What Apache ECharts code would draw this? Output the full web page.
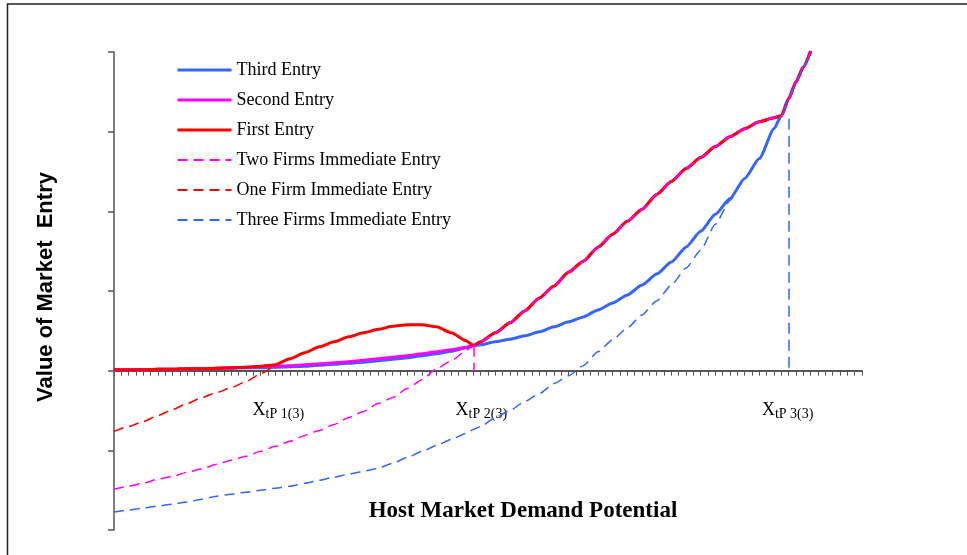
<!DOCTYPE html>
<html><head><meta charset="utf-8">
<script src="https://cdn.jsdelivr.net/npm/echarts@6/dist/echarts.min.js"></script>
<style>html,body{margin:0;padding:0;background:#fff}#c{width:967px;height:555px}</style>
</head><body><div id="c"></div>
<script>
// Host market demand potential (x) sample points
const xValues = [0,2,4,6,8,10,12,14,16,18,20,22,24,26,28,30,32,34,36,38,40,42,44,46,48,49,50,52,54,56,58,60,62,64,66,68,70,72,74,76,78,80,82,84,86,88,90,91,92,93,94,95];

const thirdEntry = [1,1,1,1.5,1.5,2,2,2.5,2.5,3,3,3.5,4,4.5,5.5,6.5,7.5,8.5,10,11.5,13,15,17,19.5,23,25,26,29,31.5,35,39,44,49,54,61,68,76,86,97,109,124,140,157,173,193,213,243,256,273,290,305,321];
const secondEntry = [1,1,1,1.5,1.5,2,2,2.5,3,3.5,4,4.5,5,6,7,8,9,10.5,12,13.5,15,17,19,21,23.5,25,29,38,48,60,73,85,99,110,124,137,150,162,177,190,203,214,225,235,243,250,254,256,273,290,305,321];
const firstEntry = [1,1,1,1.5,1.5,2,2,2.5,3,3.5,4.5,6,12,18,24,29,34,38,41.5,44.5,46,46,44,38,30,25.5,29,38,48,60,73,85,99,110,124,137,150,162,177,190,203,214,225,235,243,250,254,256,273,290,305,321];
const twoFirmsImmediate = [-119,-116,-113,-109,-106,-102,-98.5,-94,-90,-86,-81,-76,-71,-65,-60,-54,-47,-41,-33,-27,-18,-9,2,10,20,25,29,38,48,60,73,85,99,110,124,137,150,162,177,190,203,214,225,235,243,250,254,256,273,290,305,321];
const oneFirmImmediate = [-61,-56,-51,-45,-39,-33,-27,-22,-17,-11,-3,6];
const threeFirmsImmediate = [-142,-140,-138,-136,-134,-132,-129,-126,-124,-122,-120,-118,-116,-113,-110,-107,-104,-101,-98,-93,-87,-81,-75,-69,-63,-59,-56,-47,-40,-31,-23,-13,-5,5,19,31,43,56,70,86,103,121,147,171,193,213,243,256,273,290,305,321];

// thresholds X_tP n(3) and drop lines [x, top value]
const xtp = [22, 49, 92];
const xtpLabels = ['1(3)', '2(3)', '3(3)'];
const dropTwo = [49, 25];
const dropThree = [92, 253];

const seriesNames = ['Third Entry','Second Entry','First Entry','Two Firms Immediate Entry','One Firm Immediate Entry','Three Firms Immediate Entry'];
const dashedFlags = [false, false, false, true, true, true];

const BLUE = '#3366FF', MAG = '#FF00FF', RED = '#FF0000';
const serif = '"Liberation Serif", "Times New Roman", serif';

function pairs(ys) {
  const out = [];
  ys.forEach((y, i) => { if (y !== null && y !== undefined) out.push([xValues[i], y]); });
  return out;
}
function mk(name, ys, color, dashed, extra) {
  return Object.assign({
    name: name, type: 'line', data: pairs(ys), symbol: 'none',
    smooth: 0.2, smoothMonotone: 'x',
    lineStyle: dashed ? { color: color, width: 1.5, type: [10, 6] } : { color: color, width: 3 },
    itemStyle: { color: color },
    emphasis: { disabled: true }
  }, extra || {});
}
function drop(pt, color) {
  return {
    symbol: ['none', 'none'], silent: true, label: { show: false },
    lineStyle: { color: color, type: [11, 6], width: 1.5 },
    data: [[{ coord: [pt[0], pt[1]] }, { coord: [pt[0], 0] }]]
  };
}

const chart = echarts.init(document.getElementById('c'));

function baseGraphics() {
  return [
    { type: 'rect', silent: true, z: -10, shape: { x: 7.5, y: 4, width: 1200, height: 800 },
      style: { fill: 'none', stroke: '#222', lineWidth: 1.5 } },
    { type: 'text', silent: true, x: 46, y: 287, rotation: Math.PI / 2,
      style: { text: 'Value of Market  Entry', font: 'bold 22px "Liberation Sans", Arial, sans-serif', fill: '#000', align: 'center', verticalAlign: 'middle' } },
    { type: 'text', silent: true, x: 523, y: 511,
      style: { text: 'Host Market Demand Potential', font: 'bold 23px ' + serif, fill: '#000', align: 'center', verticalAlign: 'middle' } }
  ];
}

chart.setOption({
  animation: false,
  grid: { left: 114, right: 105, top: 52, bottom: 25 },
  xAxis: {
    type: 'value', min: 0, max: 102, interval: 1,
    axisLine: { onZero: true, lineStyle: { color: '#555', width: 2 } },
    axisTick: { show: true, length: 5, lineStyle: { color: '#555', width: 1 } },
    axisLabel: { show: false }, splitLine: { show: false }
  },
  yAxis: {
    type: 'value', min: -160, max: 320, interval: 80,
    axisLine: { show: true, lineStyle: { color: '#555', width: 1.5 } },
    axisTick: { show: true, length: 6, lineStyle: { color: '#555', width: 1.5 } },
    axisLabel: { show: false }, splitLine: { show: false }
  },
  legend: {
    orient: 'vertical', left: 176, top: 61, padding: 0,
    itemWidth: 54, itemHeight: 14, itemGap: 12,
    itemStyle: { opacity: 0 },
    lineStyle: { width: 'inherit', type: 'inherit' },
    textStyle: { fontFamily: serif, fontSize: 18, color: '#000' },
    data: seriesNames.map((n, i) => dashedFlags[i]
      ? { name: n, lineStyle: { width: 2, type: [10, 6] } }
      : { name: n }),
    selectedMode: false
  },
  series: [
    mk(seriesNames[0], thirdEntry, BLUE, false),
    mk(seriesNames[1], secondEntry, MAG, false),
    mk(seriesNames[2], firstEntry, RED, false),
    mk(seriesNames[3], twoFirmsImmediate, MAG, true, { markLine: drop(dropTwo, MAG) }),
    mk(seriesNames[4], oneFirmImmediate, RED, true),
    mk(seriesNames[5], threeFirmsImmediate, BLUE, true, { markLine: drop(dropThree, BLUE) })
  ],
  graphic: baseGraphics()
});

const nudges = [3, 8, -1];
const labels = xtp.map((xv, i) => {
  const p = chart.convertToPixel({ gridIndex: 0 }, [xv, 0]);
  return {
    type: 'text', silent: true, x: p[0] + nudges[i], y: p[1] + 41,
    style: {
      text: '{a|X}{b|tP ' + xtpLabels[i] + '}', align: 'center', verticalAlign: 'middle',
      rich: {
        a: { fontFamily: serif, fontSize: 18, fill: '#000', color: '#000', verticalAlign: 'bottom', padding: [0, 0, 2, 0] },
        b: { fontFamily: serif, fontSize: 14, fill: '#000', color: '#000', verticalAlign: 'bottom' }
      }
    }
  };
});
chart.setOption({ graphic: baseGraphics().concat(labels) });
</script>
</body></html>
